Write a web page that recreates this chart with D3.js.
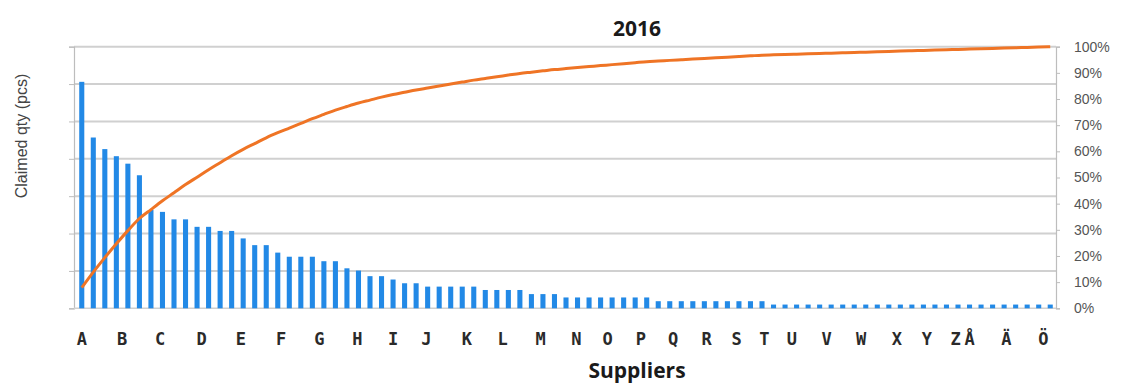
<!DOCTYPE html>
<html>
<head>
<meta charset="utf-8">
<script src="https://cdn.jsdelivr.net/npm/d3@7"></script>
<style>
  html, body { margin: 0; padding: 0; background: #fff; }
  svg { display: block; }
</style>
</head>
<body>
<svg id="chart" width="1127" height="389"></svg>
<script>
// ---- data ----
const chartTitle = "2016";
const xTitle = "Suppliers";
const yTitle = "Claimed qty (pcs)";
const claimedQty = [
  60.6, 45.7, 42.6, 40.7, 38.7, 35.6, 26.3, 25.8, 23.8, 23.8,
  21.8, 21.8, 20.7, 20.7, 18.7, 16.9, 16.9, 14.9, 13.8, 13.8,
  13.8, 12.6, 12.6, 10.7, 10.1, 8.6, 8.6, 7.7, 6.7, 6.7,
  5.8, 5.8, 5.8, 5.8, 5.8, 4.9, 4.9, 4.9, 4.9, 3.8,
  3.8, 3.8, 2.9, 2.9, 2.9, 2.9, 2.9, 2.9, 2.9, 2.9,
  1.9, 1.9, 1.9, 1.9, 1.9, 1.9, 1.9, 1.9, 1.9, 1.9,
  1.0, 1.0, 1.0, 1.0, 1.0, 1.0, 1.0, 1.0, 1.0, 1.0,
  1.0, 1.0, 1.0, 1.0, 1.0, 1.0, 1.0, 1.0, 1.0, 1.0,
  1.0, 1.0, 1.0, 1.0, 1.0
];
const supplierIds = claimedQty.map((_, i) => i);
const letterLabels = ["A","B","C","D","E","F","G","H","I","J","K","L","M","N","O","P","Q","R","S","T","U","V","W","X","Y","Z","Å","Ä","Ö"];
// supplier position (bar index) under which each letter is printed
const letterAt = [0, 3.5, 6.8, 10.4, 13.8, 17.3, 20.6, 23.9, 27.0, 29.9, 33.4, 36.5, 39.8, 42.9, 45.6, 48.5, 51.3, 54.2, 56.8, 59.2, 61.6, 64.6, 67.6, 70.7, 73.3, 75.8, 77.0, 80.2, 83.4];
const leftTicks = [0, 10, 20, 30, 40, 50, 60, 70];
const pctTicks = [0, 0.1, 0.2, 0.3, 0.4, 0.5, 0.6, 0.7, 0.8, 0.9, 1.0];

// ---- derived ----
const total = d3.sum(claimedQty);
const cumPct = d3.cumsum(claimedQty).map(v => v / total);

// ---- layout ----
const svg = d3.select("#chart");
const plotL = 76, plotR = 1056, plotT = 46.7, plotB = 308.3;

const x = d3.scaleBand().domain(supplierIds).range([plotL, plotR]).paddingInner(0.56).paddingOuter(0.28);
const xc = i => x(i) + x.bandwidth() / 2;
const xIdx = d3.scaleLinear().domain([0, claimedQty.length - 1]).range([xc(0), xc(claimedQty.length - 1)]);
const y = d3.scaleLinear().domain([0, 70]).range([plotB, plotT]);
const yP = d3.scaleLinear().domain([0, 1]).range([plotB, plotT]);

// gridlines
svg.append("g")
  .selectAll("line").data(leftTicks.slice(1)).join("line")
  .attr("x1", plotL - 2).attr("x2", plotR)
  .attr("y1", d => y(d)).attr("y2", d => y(d))
  .attr("stroke", "#d0d0d0").attr("stroke-width", 2);

// left axis (no labels)
const gL = svg.append("g").attr("transform", `translate(${plotL - 2},0)`)
  .call(d3.axisLeft(y).tickValues(leftTicks).tickSize(5).tickFormat(""));
gL.select(".domain").attr("stroke", "#bdbdbd").attr("stroke-width", 1.2);
gL.selectAll(".tick line").attr("stroke", "#bdbdbd");

// right axis
const gR = svg.append("g").attr("transform", `translate(${plotR},0)`)
  .call(d3.axisRight(yP).tickValues(pctTicks).tickSize(4).tickPadding(14).tickFormat(d3.format(".0%")));
gR.select(".domain").attr("stroke", "#bdbdbd").attr("stroke-width", 1.2);
gR.selectAll(".tick line").attr("stroke", "#bdbdbd");
gR.selectAll(".tick text").attr("font-family", "Liberation Sans, Arial, sans-serif")
  .attr("font-size", 14).attr("fill", "#555");

// bottom baseline
svg.append("line").attr("x1", plotL - 2).attr("x2", plotR).attr("y1", plotB).attr("y2", plotB)
  .attr("stroke", "#d0d0d0").attr("stroke-width", 1.5);

// bars
svg.append("g").selectAll("rect").data(claimedQty).join("rect")
  .attr("x", (d, i) => x(i)).attr("width", x.bandwidth())
  .attr("y", d => y(d)).attr("height", d => plotB - y(d))
  .attr("fill", "#2289e6");

// cumulative line
svg.append("path").datum(cumPct)
  .attr("d", d3.line().x((d, i) => xc(i)).y(d => yP(d)).curve(d3.curveMonotoneX))
  .attr("fill", "none").attr("stroke", "#ef7425").attr("stroke-width", 3)
  .attr("stroke-linejoin", "round");

// letter labels
svg.append("g").selectAll("text").data(letterLabels).join("text")
  .attr("x", (d, i) => xIdx(letterAt[i])).attr("y", 345)
  .attr("text-anchor", "middle")
  .attr("font-family", "DejaVu Sans Mono, monospace").attr("font-weight", "bold")
  .attr("font-size", 17).attr("fill", "#2a2a2a")
  .text(d => d);

// titles
svg.append("text").attr("x", 637).attr("y", 36).attr("text-anchor", "middle")
  .attr("font-family", "Open Sans, sans-serif").attr("font-weight", "bold")
  .attr("font-size", 21).attr("fill", "#1a1a1a").text(chartTitle);
svg.append("text").attr("x", 637).attr("y", 378).attr("text-anchor", "middle")
  .attr("font-family", "Open Sans, sans-serif").attr("font-weight", "bold")
  .attr("font-size", 21).attr("fill", "#1a1a1a").text(xTitle);
svg.append("text").attr("transform", "translate(27,136) rotate(-90)").attr("text-anchor", "middle")
  .attr("font-family", "Liberation Sans, Arial, sans-serif")
  .attr("font-size", 16).attr("fill", "#444").text(yTitle);
</script>
</body>
</html>
